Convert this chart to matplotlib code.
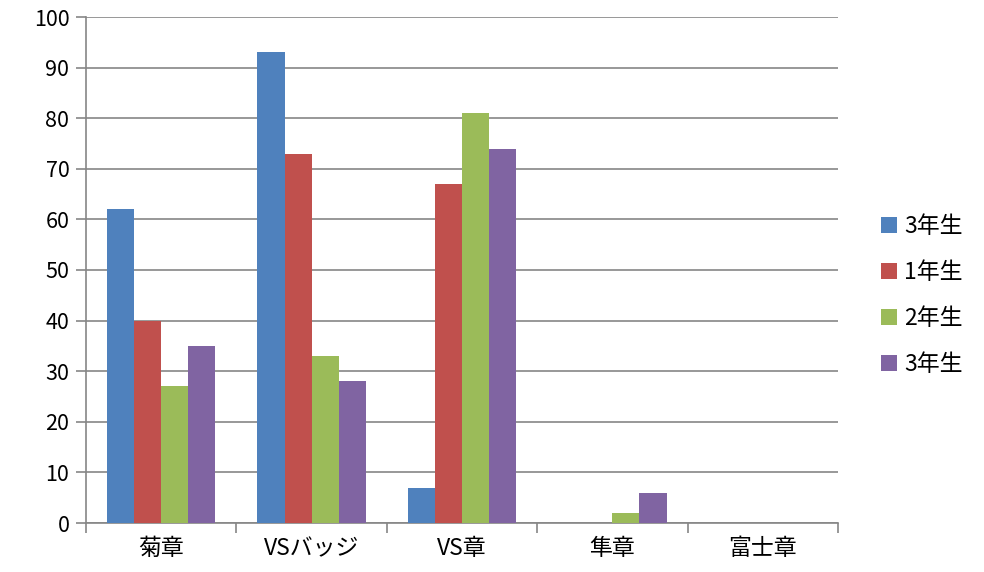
import matplotlib
matplotlib.use("Agg")
import matplotlib.pyplot as plt
import numpy as np

plt.rcParams['font.family'] = ['Noto Sans CJK JP', 'DejaVu Sans']

categories = ["菊章", "VSバッジ", "VS章", "隼章", "富士章"]
series_names = ["3年生", "1年生", "2年生", "3年生"]
grade3_a = [62, 93, 7, 0, 0]
grade1 = [40, 73, 67, 0, 0]
grade2 = [27, 33, 81, 2, 0]
grade3_b = [35, 28, 74, 6, 0]
colors = ["#4F81BD", "#C0504D", "#9BBB59", "#8064A2"]

fig = plt.figure(figsize=(9.84, 5.72), dpi=100)
ax = fig.add_axes([86 / 984, 49 / 572, 752 / 984, 506 / 572])

x = np.arange(len(categories))
w = 0.18
for i, vals in enumerate([grade3_a, grade1, grade2, grade3_b]):
    ax.bar(x + (i - 1.5) * w, vals, w, color=colors[i], label=series_names[i], zorder=3)

ax.set_xlim(-0.5, len(categories) - 0.5)
ax.set_ylim(0, 100)
ax.set_yticks(range(0, 101, 10))
ax.yaxis.grid(True, color="#868686", linewidth=1.2, zorder=0)
for s in ["top", "right"]:
    ax.spines[s].set_visible(False)
for s in ["left", "bottom"]:
    ax.spines[s].set_color("#868686")
    ax.spines[s].set_linewidth(1.2)

ax.set_xticks(np.arange(-0.5, len(categories), 1.0))
ax.set_xticklabels([])
ax.set_xticks(x, minor=True)
ax.set_xticklabels(categories, minor=True, fontsize=16.5)
ax.tick_params(axis="x", which="major", length=7, color="#868686", width=1.2)
ax.tick_params(axis="x", which="minor", length=0, pad=10)
ax.tick_params(axis="y", length=7, color="#868686", width=1.2, labelsize=15.5, pad=5)

ax.legend(loc="center left", bbox_to_anchor=(1.03, 0.45), frameon=False,
          fontsize=16.5, handlelength=0.7, handleheight=0.7, handletextpad=0.3,
          labelspacing=1.0)

fig.savefig("out.png", dpi=100)
